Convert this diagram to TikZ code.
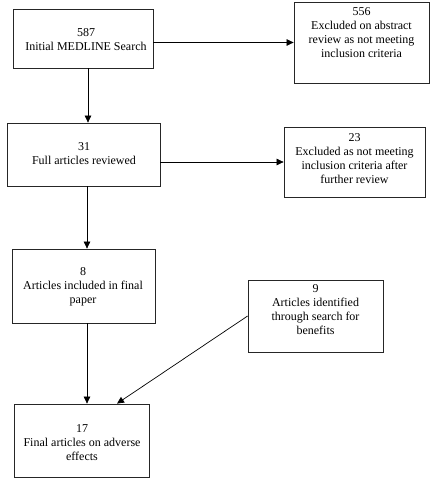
\documentclass[tikz,border=0pt]{standalone}
\usepackage{fontspec}
\setmainfont{Liberation Serif}
\usetikzlibrary{arrows.meta}
\begin{document}
\begin{tikzpicture}[x=1pt,y=-1pt,
  box/.style={draw=black!85,line width=0.8pt,inner sep=0pt},
  txt/.style={align=center,inner sep=0pt,font=\fontsize{12}{14}\selectfont},
  arr/.style={line width=0.7pt,-{Triangle[length=7pt,width=6.5pt]}}]
\useasboundingbox (0,0) rectangle (431,478);
% boxes
\node[box,minimum width=140,minimum height=59] (b1) at (83,38.5) {};
\node[box,minimum width=135,minimum height=81] (b2) at (361.5,42.5) {};
\node[box,minimum width=153,minimum height=63] (b3) at (83.5,154.5) {};
\node[box,minimum width=141,minimum height=70] (b4) at (354.5,162) {};
\node[box,minimum width=143,minimum height=74] (b5) at (83.5,286) {};
\node[box,minimum width=135,minimum height=72] (b6) at (315.5,316) {};
\node[box,minimum width=135,minimum height=73] (b7) at (81.5,440.5) {};
% texts
\node[txt] (t1) at (86,40) {587\\Initial MEDLINE Search};
\node[txt] (t2) at (361.5,33) {556\\Excluded on abstract\\review as not meeting\\inclusion criteria};
\node[txt] (t3) at (84,154) {31\\Full articles reviewed};
\node[txt] (t4) at (354.5,159) {23\\Excluded as not meeting\\inclusion criteria after\\further review};
\node[txt] (t5) at (83,287) {8\\Articles included in final\\paper};
\node[txt] (t6) at (315.5,310) {9\\Articles identified\\through search for\\benefits};
\node[txt] (t7) at (82,443) {17\\Final articles on adverse\\effects};
% connectors
\draw[arr] (b1.east |- b2.west) -- (b2.west);
\draw[arr] ([xshift=5]b1.south) -- ([xshift=5]b1.south |- b3.north);
\draw[arr] (b3.east |- b4.west) -- (b4.west);
\draw[arr] ([xshift=3.5]b3.south) -- ([xshift=3.5]b3.south |- b5.north);
\draw[arr] ([xshift=3.5]b5.south) -- ([xshift=5.5]b7.north);
\draw[arr] (b6.west) -- ([xshift=35.5]b7.north);
\end{tikzpicture}
\end{document}
